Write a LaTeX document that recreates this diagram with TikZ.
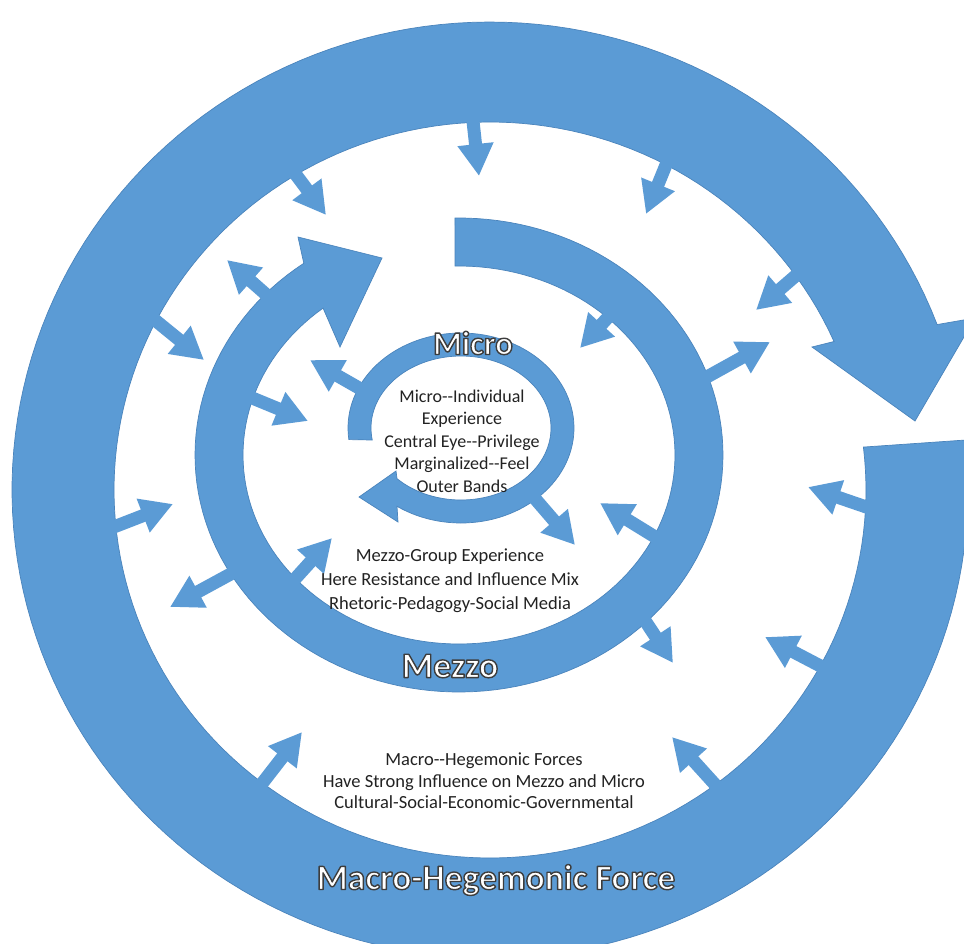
\documentclass[tikz,border=0pt]{standalone}
\usepackage{fontspec}
\setmainfont{Carlito}
\usetikzlibrary{calc,arrows.meta}

\definecolor{bandblue}{HTML}{5B9BD5}
\definecolor{bandedge}{HTML}{4A84BC}
\definecolor{inkc}{HTML}{222222}

\tikzset{
  band/.style={fill=bandblue, draw=bandedge, line width=0.7pt, line join=miter},
  sarrow/.style={draw=bandblue, line width=13pt,
    -{Triangle[length=32pt 0 0, width=34pt 0 0]}},
  bodytext/.style={text=inkc, align=center, inner sep=0pt},
  rimtitle/.style={text=white, inner sep=0pt},
}

% white letters with a dark rim (fill, then stroke the glyph outlines)
\newcommand\rimtext[1]{%
  \special{pdf:literal direct 1 1 1 rg 0.24 0.24 0.24 RG 1.4 w 1 j 2 Tr}#1%
  \special{pdf:literal direct 0 Tr}}

\begin{document}
\begin{tikzpicture}[x=1pt,y=-1pt]
\useasboundingbox (0,0) rectangle (964,943);
\clip (0,0) rectangle (964,943);
\fill[white] (0,0) rectangle (964,943);

% macro band (outer circular arrow)
\draw[band] plot[domain=353.87:699.3, samples=180] ({490+478*cos(\x)},{490+468*sin(\x)})
  -- (975,318) -- (915,421) -- (812,347)
  -- plot[domain=696.2:353.3, samples=180] ({490+376*cos(\x)},{490+368*sin(\x)}) -- cycle;

% mezzo band
\draw[band] plot[domain=269.13:594, samples=140] ({459+264*cos(\x)},{455+237*sin(\x)})
  -- (298,237) -- (382,258) -- (340,347)
  -- plot[domain=591:268.94, samples=140] ({459+216*cos(\x)},{455+189*sin(\x)}) -- cycle;

% micro band
\draw[band] plot[domain=173:484.5, samples=110] ({461+113*cos(\x)},{428+95*sin(\x)})
  -- (398,522) -- (359,497) -- (396,471)
  -- plot[domain=495.3:170.4, samples=110] ({461+90*cos(\x)},{428+72*sin(\x)}) -- cycle;

% ends of the small influence arrows
\coordinate (s1) at (472,112);  \coordinate (e1) at (479,176);
\coordinate (s2) at (285,160);  \coordinate (e2) at (326,215);
\coordinate (s3) at (670,155);  \coordinate (e3) at (646,214);
\coordinate (s4) at (150,316);  \coordinate (e4) at (204,360);
\coordinate (s5) at (278,305);  \coordinate (e5) at (227,260);
\coordinate (s6) at (800,272);  \coordinate (e6) at (756,310);
\coordinate (s7) at (622,302);  \coordinate (e7) at (580,348);
\coordinate (s8) at (705,378);  \coordinate (e8) at (770,342);
\coordinate (s9) at (366,392);  \coordinate (e9) at (310,360);
\coordinate (s10) at (245,395); \coordinate (e10) at (308,421);
\coordinate (s11) at (106,530); \coordinate (e11) at (173,504);
\coordinate (s12) at (238,570); \coordinate (e12) at (170,607);
\coordinate (s13) at (285,590); \coordinate (e13) at (332,538);
\coordinate (s14) at (525,487); \coordinate (e14) at (575,545);
\coordinate (s15) at (665,543); \coordinate (e15) at (600,503);
\coordinate (s16) at (638,610); \coordinate (e16) at (673,663);
\coordinate (s17) at (875,510); \coordinate (e17) at (808,487);
\coordinate (s18) at (830,671); \coordinate (e18) at (765,637);
\coordinate (s19) at (257,790); \coordinate (e19) at (302,732);
\coordinate (s20) at (720,790); \coordinate (e20) at (672,737);

\foreach \i in {1,...,20}
  \draw[sarrow] (s\i) -- (e\i);

% band titles
\node[rimtitle, font=\fontsize{33}{33}\selectfont\bfseries] (microtitle) at (473,343) {\rimtext{Micro}};
\node[rimtitle, font=\fontsize{36}{36}\selectfont\bfseries] (mezzotitle) at (450,666) {\rimtext{Mezzo}};
\node[rimtitle, font=\fontsize{35.5}{35.5}\selectfont\bfseries] (macrotitle) at (496,880) {\rimtext{Macro-Hegemonic Force}};

% descriptions
\node[bodytext, font=\fontsize{18}{22.5}\selectfont] (microtext) at (462,441)
  {Micro-{}-Individual\\Experience\\Central Eye-{}-Privilege\\Marginalized-{}-Feel\\Outer Bands};
\node[bodytext, font=\fontsize{18.5}{24}\selectfont] (mezzotext) at (450,581)
  {Mezzo-Group Experience\\Here Resistance and Influence Mix\\Rhetoric-Pedagogy-Social Media};
\node[bodytext, font=\fontsize{18.5}{21.5}\selectfont] (macrotext) at (484,781)
  {Macro-{}-Hegemonic Forces\\Have Strong Influence on Mezzo and Micro\\Cultural-Social-Economic-Governmental};
\end{tikzpicture}
\end{document}
